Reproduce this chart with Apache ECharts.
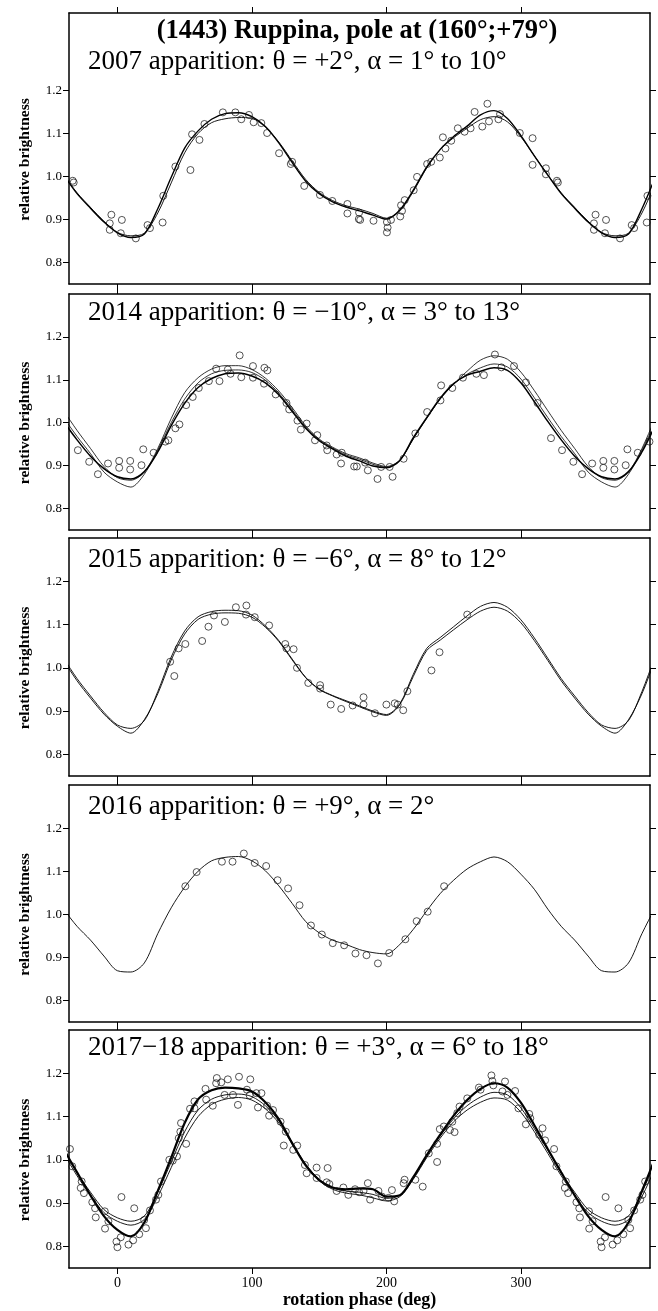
<!DOCTYPE html>
<html lang="en">
<head>
<meta charset="UTF-8">
<title>(1443) Ruppina</title>
<script src="https://cdn.jsdelivr.net/npm/echarts@6/dist/echarts.min.js"></script>
<style>
  html, body { margin: 0; padding: 0; background: #fff; }
  #chart { width: 658px; height: 1311px; }
</style>
</head>
<body>
<div id="chart"></div>
<script>
// rotation phase of the model curves (one period, repeated every 360 deg)
const phase = [0, 10, 20, 30, 40, 50, 60, 70, 80, 90, 100, 110, 120, 130, 140, 150, 160, 170,
               180, 190, 200, 210, 220, 230, 240, 250, 260, 270, 280, 290, 300, 310, 320, 330, 340, 350];
const xTicks = [0, 100, 200, 300];
const yTicks = [0.8, 0.9, 1.0, 1.1, 1.2];

// 2007
const p1LineA = [0.869, 0.858, 0.866, 0.925, 0.998, 1.066, 1.106, 1.133, 1.146, 1.148, 1.139, 1.116, 1.078, 1.032, 0.989, 0.960, 0.941, 0.929,
                 0.920, 0.910, 0.901, 0.922, 0.968, 1.022, 1.063, 1.093, 1.117, 1.143, 1.153, 1.135, 1.095, 1.048, 1.003, 0.960, 0.926, 0.894];
const p1LineB = [0.870, 0.862, 0.868, 0.915, 0.985, 1.055, 1.100, 1.125, 1.134, 1.137, 1.135, 1.115, 1.080, 1.036, 0.993, 0.963, 0.944, 0.932,
                 0.924, 0.914, 0.903, 0.920, 0.965, 1.020, 1.062, 1.090, 1.112, 1.132, 1.139, 1.127, 1.092, 1.048, 1.004, 0.962, 0.928, 0.896];
const p1Points = [[2.5, 0.868], [3.3, 0.899], [13.7, 0.856], [22.4, 0.887], [24.2, 0.880], [33.6, 0.893], [34.1, 0.955], [43.1, 1.023],
  [54.3, 1.015], [55.5, 1.098], [61, 1.085], [64.7, 1.122], [78.4, 1.149], [87.7, 1.149], [92.1, 1.133], [97.8, 1.143], [101.3, 1.126],
  [107, 1.124], [111.3, 1.101], [120.2, 1.054], [129.9, 1.034], [128.9, 1.029], [138.9, 0.978], [150.6, 0.957], [159.8, 0.943],
  [171, 0.936], [171, 0.914], [179.5, 0.901], [179.7, 0.916], [180.5, 0.899], [190.4, 0.897], [200.4, 0.894], [200.9, 0.881],
  [200.4, 0.870], [203.4, 0.899], [210.3, 0.907], [211.6, 0.920], [210.9, 0.933], [213.6, 0.945], [220.3, 0.968], [222.8, 0.999],
  [230.3, 1.029], [233.3, 1.034], [239.7, 1.044], [242, 1.091], [243.9, 1.065], [248.2, 1.083], [253.1, 1.112], [258.1, 1.104],
  [262.6, 1.112], [265.6, 1.150], [271.3, 1.116], [275.1, 1.169], [276.3, 1.128], [283.3, 1.133], [284.5, 1.145], [299.2, 1.101],
  [308.7, 1.089], [308.7, 1.027], [318.6, 1.019], [318.6, 1.005], [326.8, 0.990], [327.5, 0.986], [354.3, 0.891], [355.5, 0.911],
  [354.3, 0.876]];

// 2014
const p2LineA = [0.874, 0.869, 0.886, 0.932, 0.993, 1.045, 1.082, 1.103, 1.114, 1.116, 1.109, 1.093, 1.065, 1.026, 0.987, 0.958, 0.939, 0.922,
                 0.911, 0.899, 0.895, 0.912, 0.965, 1.012, 1.057, 1.091, 1.111, 1.120, 1.128, 1.122, 1.093, 1.049, 1.003, 0.960, 0.922, 0.893];
const p2LineB = [0.872, 0.866, 0.885, 0.940, 1.010, 1.070, 1.105, 1.125, 1.133, 1.133, 1.124, 1.104, 1.074, 1.035, 0.993, 0.962, 0.943, 0.928,
                 0.918, 0.906, 0.898, 0.913, 0.962, 1.010, 1.055, 1.090, 1.120, 1.146, 1.156, 1.148, 1.118, 1.075, 1.028, 0.982, 0.940, 0.898];
const p2LineC = [0.862, 0.850, 0.880, 0.936, 1.000, 1.055, 1.093, 1.114, 1.122, 1.123, 1.117, 1.099, 1.069, 1.030, 0.990, 0.960, 0.941, 0.925,
                 0.915, 0.903, 0.896, 0.912, 0.963, 1.011, 1.056, 1.090, 1.113, 1.128, 1.137, 1.130, 1.102, 1.058, 1.012, 0.968, 0.928, 0.885];
const p2Points = [[1.3, 0.911], [1.3, 0.895], [9.5, 0.911], [9.5, 0.891], [17.9, 0.901], [19.2, 0.938], [26.9, 0.930], [35.6, 0.956],
  [37.9, 0.959], [43.1, 0.987], [46.1, 0.996], [51.1, 1.041], [56, 1.060], [60.5, 1.081], [68, 1.097], [73.4, 1.126], [75.9, 1.097],
  [82.1, 1.124], [84.1, 1.114], [90.9, 1.157], [92.1, 1.106], [100.8, 1.132], [100.8, 1.105], [109.3, 1.128], [111.5, 1.122],
  [109, 1.091], [117.7, 1.066], [125.7, 1.046], [127.7, 1.031], [133.9, 1.005], [140.7, 0.998], [136.4, 0.984], [148.6, 0.971],
  [146.9, 0.959], [155.6, 0.947], [156, 0.936], [163, 0.926], [166.8, 0.930], [166.3, 0.905], [176, 0.898], [178, 0.898],
  [186.2, 0.889], [184.2, 0.907], [193.4, 0.869], [196.1, 0.897], [202.4, 0.897], [204.6, 0.874], [212.8, 0.916], [221.5, 0.975],
  [230.3, 1.025], [240.2, 1.052], [240.7, 1.087], [249, 1.081], [256.9, 1.105], [266.9, 1.114], [272.5, 1.111], [280.7, 1.159],
  [285.5, 1.129], [294.9, 1.132], [303.7, 1.094], [312.4, 1.046], [322.4, 0.964], [330.6, 0.936], [339, 0.909], [345.5, 0.880],
  [353, 0.905]];

// 2015
const p3LineA = [0.868, 0.860, 0.878, 0.945, 1.025, 1.085, 1.118, 1.130, 1.133, 1.132, 1.122, 1.097, 1.063, 1.020, 0.978, 0.951, 0.936, 0.924,
                 0.912, 0.900, 0.892, 0.917, 0.985, 1.045, 1.070, 1.095, 1.120, 1.142, 1.151, 1.140, 1.111, 1.069, 1.022, 0.975, 0.935, 0.897];
const p3LineB = [0.865, 0.849, 0.880, 0.940, 1.018, 1.078, 1.112, 1.124, 1.127, 1.126, 1.117, 1.094, 1.061, 1.018, 0.977, 0.950, 0.935, 0.922,
                 0.910, 0.898, 0.890, 0.915, 0.980, 1.040, 1.064, 1.088, 1.111, 1.131, 1.140, 1.131, 1.104, 1.063, 1.017, 0.970, 0.930, 0.893];
const p3Points = [[39.2, 1.014], [42.3, 0.981], [45.5, 1.045], [50.5, 1.055], [63, 1.062], [67.7, 1.095], [71.8, 1.121], [79.9, 1.106],
  [88.1, 1.140], [95.9, 1.144], [95.6, 1.123], [102.1, 1.117], [112.8, 1.098], [124.8, 1.055], [125.7, 1.045], [131, 1.043],
  [133.5, 1.000], [141.9, 0.965], [150.7, 0.960], [150.7, 0.952], [158.6, 0.915], [166.4, 0.905], [174.9, 0.913], [183, 0.932],
  [183, 0.915], [191.5, 0.895], [200, 0.915], [206.2, 0.918], [208.4, 0.915], [212.5, 0.902], [215.6, 0.946], [233.5, 0.994],
  [239.5, 1.036], [260.1, 1.123]];

// 2016
const p4Line = [0.869, 0.866, 0.887, 0.955, 1.015, 1.063, 1.100, 1.124, 1.132, 1.134, 1.124, 1.101, 1.066, 1.025, 0.983, 0.957, 0.940, 0.930,
                0.918, 0.911, 0.908, 0.930, 0.965, 1.008, 1.048, 1.079, 1.105, 1.122, 1.133, 1.122, 1.093, 1.058, 1.012, 0.972, 0.940, 0.903];
const p4Points = [[50.5, 1.065], [58.9, 1.098], [77.7, 1.122], [85.6, 1.122], [94, 1.141], [102.1, 1.119], [110.6, 1.112], [119.1, 1.079],
  [126.9, 1.060], [135.4, 1.021], [143.9, 0.974], [152, 0.953], [160.1, 0.933], [168.6, 0.928], [177, 0.909], [185.2, 0.905],
  [193.7, 0.886], [202.1, 0.910], [214.1, 0.942], [222.5, 0.984], [230.7, 1.006], [242.9, 1.065]];

// 2017-18
const p5LineA = [0.838, 0.823, 0.855, 0.928, 1.005, 1.085, 1.140, 1.161, 1.167, 1.165, 1.158, 1.133, 1.094, 1.038, 0.987, 0.953, 0.936, 0.932,
                 0.934, 0.932, 0.915, 0.918, 0.960, 1.011, 1.058, 1.102, 1.138, 1.164, 1.177, 1.167, 1.132, 1.080, 1.025, 0.971, 0.918, 0.870];
const p5LineB = [0.866, 0.858, 0.870, 0.925, 0.995, 1.065, 1.115, 1.140, 1.150, 1.152, 1.146, 1.125, 1.090, 1.040, 0.990, 0.955, 0.935, 0.928,
                 0.925, 0.920, 0.911, 0.918, 0.958, 1.010, 1.055, 1.095, 1.125, 1.145, 1.156, 1.150, 1.120, 1.072, 1.022, 0.970, 0.925, 0.885];
const p5LineC = [0.858, 0.849, 0.862, 0.915, 0.982, 1.050, 1.100, 1.128, 1.140, 1.144, 1.138, 1.118, 1.085, 1.036, 0.987, 0.952, 0.932, 0.923,
                 0.919, 0.912, 0.905, 0.915, 0.955, 1.005, 1.050, 1.088, 1.115, 1.133, 1.143, 1.138, 1.110, 1.065, 1.015, 0.963, 0.918, 0.878];
const p5Points = [[324.7, 1.025], [326.4, 0.985], [333.4, 0.950], [332.7, 0.935], [335.1, 0.923], [341.3, 0.902], [343.4, 0.888],
  [343.9, 0.867], [350.6, 0.881], [350.8, 0.841], [353.3, 0.858], [359.3, 0.811], [0, 0.798], [3, 0.914], [2.5, 0.821], [8.2, 0.804],
  [11.7, 0.814], [12.5, 0.888], [16.2, 0.828], [21.2, 0.842], [19.9, 0.861], [24.2, 0.883], [28.7, 0.908], [30.4, 0.919], [32.4, 0.950],
  [38.6, 1.000], [41.1, 0.998], [44.3, 1.008], [51.1, 1.037], [45.6, 1.050], [46.8, 1.065], [47.3, 1.085], [54, 1.118], [57.3, 1.135],
  [57.3, 1.119], [65.5, 1.164], [66, 1.139], [70.9, 1.125], [73.4, 1.177], [73.9, 1.189], [77.2, 1.179], [79.7, 1.150], [82.1, 1.186],
  [85.9, 1.150], [90.4, 1.192], [89.6, 1.127], [96.3, 1.162], [98.8, 1.186], [98.3, 1.149], [103.3, 1.154], [107.1, 1.154],
  [104.5, 1.121], [111.3, 1.125], [112.8, 1.102], [115.7, 1.115], [121.3, 1.088], [123.7, 1.033], [125.2, 1.065], [130.7, 1.023],
  [133.7, 1.033], [139.4, 0.988], [140.7, 0.969], [148.1, 0.982], [148.1, 0.958], [156.3, 0.981], [155.6, 0.948], [157.6, 0.944],
  [163, 0.928], [168, 0.936], [171.7, 0.919], [176.7, 0.932], [179.7, 0.925], [183, 0.928], [186.2, 0.946], [187.9, 0.908],
  [194.1, 0.928], [196.7, 0.915], [201.6, 0.912], [204.1, 0.930], [205.8, 0.904], [212.8, 0.946], [213.5, 0.954], [221.5, 0.954],
  [227, 0.938], [231.5, 1.015], [237.7, 0.995], [237.7, 1.037], [239.7, 1.071], [242.7, 1.077], [247.2, 1.069], [250.7, 1.064],
  [249, 1.088], [252.7, 1.108], [254.4, 1.123], [260.1, 1.142], [268.8, 1.167], [270, 1.162], [278.1, 1.195], [278.8, 1.182],
  [279.5, 1.172], [286.3, 1.158], [288.2, 1.181], [290, 1.150], [295.7, 1.159], [298.2, 1.119], [303.7, 1.082], [306.2, 1.106],
  [307, 1.096], [313.6, 1.058], [316.1, 1.073], [318, 1.045]];

const mainTitle = '(1443) Ruppina, pole at (160°;+79°)';
const panels = [
  { sub: '2007 apparition: θ = +2°, α = 1° to 10°', lines: [[p1LineA, 1.4], [p1LineB, 0.9]], points: p1Points,
    top: 13, height: 271, yMax: 1.38, subY: 62 },
  { sub: '2014 apparition: θ = −10°, α = 3° to 13°', lines: [[p2LineA, 1.5], [p2LineB, 0.8], [p2LineC, 0.8]], points: p2Points,
    top: 294, height: 236, yMax: 1.3, subY: 313 },
  { sub: '2015 apparition: θ = −6°, α = 8° to 12°', lines: [[p3LineA, 0.9], [p3LineB, 0.9]], points: p3Points,
    top: 538, height: 238, yMax: 1.3, subY: 560 },
  { sub: '2016 apparition: θ = +9°, α = 2°', lines: [[p4Line, 0.9]], points: p4Points,
    top: 785, height: 237, yMax: 1.3, subY: 807 },
  { sub: '2017−18 apparition: θ = +3°, α = 6° to 18°', lines: [[p5LineA, 2.2], [p5LineB, 0.9], [p5LineC, 0.9]], points: p5Points,
    top: 1030, height: 238, yMax: 1.3, subY: 1048 }
];

const X_MIN = -36, X_MAX = 396, Y_MIN = 0.75;
const SERIF = '"Liberation Serif", "DejaVu Serif", serif';

// the light curve is periodic: repeat each point one turn either side
function repeatPeriod(pairs) {
  const out = [];
  pairs.forEach(([p, v]) => {
    [-360, 0, 360].forEach(k => {
      const x = p + k;
      if (x >= X_MIN - 40 && x <= X_MAX + 40) out.push([x, v]);
    });
  });
  return out.sort((a, b) => a[0] - b[0]);
}

const chart = echarts.init(document.getElementById('chart'), null, { renderer: 'canvas' });

const grid = [], xAxis = [], yAxis = [], series = [], graphic = [];
const lineCol = '#000';

panels.forEach((pn, i) => {
  const last = i === panels.length - 1;
  grid.push({ left: 69, right: 8, top: pn.top, height: pn.height, containLabel: false });

  const axisLine = { show: true, onZero: false, lineStyle: { color: lineCol, width: 1.5 } };
  const tick = { show: true, length: 6, lineStyle: { color: lineCol, width: 1 } };

  xAxis.push({
    type: 'value', gridIndex: i, position: 'bottom', min: X_MIN, max: X_MAX,
    axisLine, splitLine: { show: false },
    axisTick: Object.assign({ customValues: xTicks }, tick),
    axisLabel: { show: last, customValues: xTicks, margin: 8, color: '#000', fontFamily: SERIF, fontSize: 14 },
    name: last ? 'rotation phase (deg)' : '', nameLocation: 'middle', nameGap: 22,
    nameTextStyle: { fontFamily: SERIF, fontWeight: 'bold', fontSize: 18, color: '#000' }
  });
  xAxis.push({
    type: 'value', gridIndex: i, position: 'top', min: X_MIN, max: X_MAX,
    axisLine, splitLine: { show: false },
    axisTick: Object.assign({ customValues: xTicks }, tick),
    axisLabel: { show: false }
  });
  yAxis.push({
    type: 'value', gridIndex: i, position: 'left', min: Y_MIN, max: pn.yMax,
    axisLine, splitLine: { show: false },
    axisTick: Object.assign({ customValues: yTicks }, tick),
    axisLabel: { customValues: yTicks, margin: 7, color: '#000', fontFamily: SERIF, fontSize: 13,
                 formatter: v => v.toFixed(1) },
    name: 'relative brightness', nameLocation: 'middle', nameGap: 36,
    nameTextStyle: { fontFamily: SERIF, fontWeight: 'bold', fontSize: 15.5, color: '#000', padding: [0, 22, 0, 0] }
  });
  yAxis.push({
    type: 'value', gridIndex: i, position: 'right', min: Y_MIN, max: pn.yMax,
    axisLine, splitLine: { show: false },
    axisTick: Object.assign({ customValues: yTicks }, tick),
    axisLabel: { show: false }
  });

  pn.lines.forEach(([vals, w]) => {
    series.push({
      type: 'line', xAxisIndex: 2 * i, yAxisIndex: 2 * i, silent: true,
      data: repeatPeriod(phase.map((p, k) => [p, vals[k]])),
      showSymbol: false, smooth: 0.3, clip: true,
      lineStyle: { color: lineCol, width: w }, z: 2
    });
  });
  series.push({
    type: 'scatter', xAxisIndex: 2 * i, yAxisIndex: 2 * i, silent: true,
    data: repeatPeriod(pn.points), symbol: 'circle', symbolSize: 7, clip: true,
    itemStyle: { color: 'rgba(0,0,0,0)', borderColor: '#111', borderWidth: 0.9 }, z: 3
  });

  graphic.push({
    type: 'text', x: 88, y: pn.subY,
    style: { text: pn.sub, font: '27px ' + SERIF, fill: '#000', textAlign: 'left', textVerticalAlign: 'middle',
             align: 'left', verticalAlign: 'middle' }
  });
});

graphic.push({
  type: 'text', x: 357, y: 31,
  style: { text: mainTitle, font: 'bold 26.5px ' + SERIF, fill: '#000', textAlign: 'center', textVerticalAlign: 'middle',
           align: 'center', verticalAlign: 'middle' }
});

chart.setOption({
  backgroundColor: '#fff',
  animation: false,
  grid, xAxis, yAxis, series, graphic
});
</script>
</body>
</html>
